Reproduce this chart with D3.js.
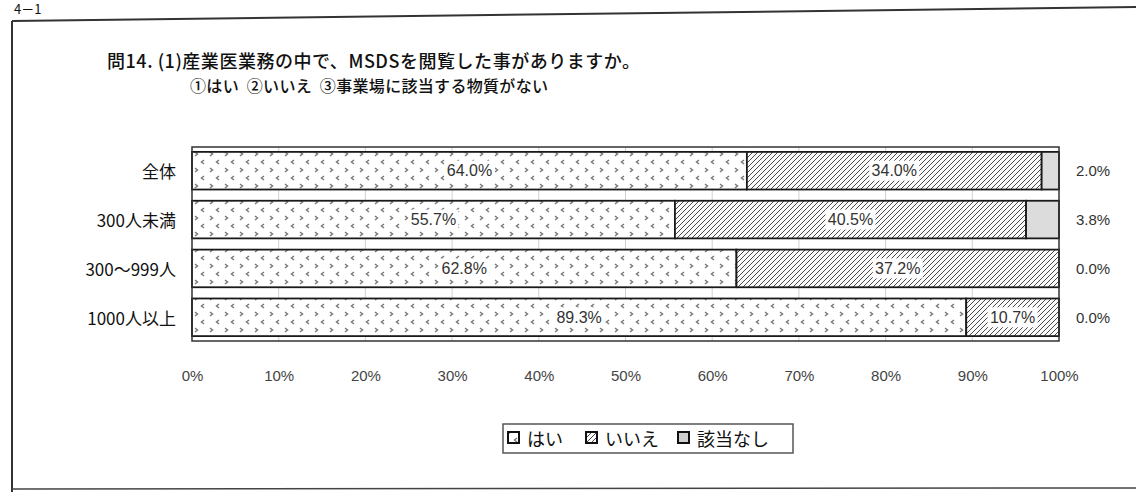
<!DOCTYPE html>
<html>
<head>
<meta charset="utf-8">
<script src="https://cdn.jsdelivr.net/npm/d3@7"></script>
<style>
  body { margin: 0; background: #fff; }
  svg { display: block; }
  .jp { font-family: "Noto Sans CJK JP", "Noto Sans", sans-serif; fill: #111; }
  .num { font-family: "Liberation Sans", Arial, sans-serif; fill: #333; }
</style>
</head>
<body>
<div id="root"></div>
<script>
'use strict';

var categories = ['全体', '300人未満', '300～999人', '1000人以上'];
var hai = [64.0, 55.7, 62.8, 89.3];
var iie = [34.0, 40.5, 37.2, 10.7];
var nashi = [2.0, 3.8, 0.0, 0.0];
var seriesNames = ['はい', 'いいえ', '該当なし'];
var ticks = [0, 10, 20, 30, 40, 50, 60, 70, 80, 90, 100];

var width = 1136;
var height = 492;

var svg = d3.select('#root')
  .append('svg')
  .attr('width', width)
  .attr('height', height);

// patterns
var defs = svg.append('defs');

var pHai = defs.append('pattern')
  .attr('id', 'p-hai')
  .attr('patternUnits', 'userSpaceOnUse')
  .attr('x', 192).attr('y', 150)
  .attr('width', 15)
  .attr('height', 16);
pHai.append('rect').attr('width', 15).attr('height', 16).attr('fill', '#fff');
pHai.append('path')
  .attr('d', 'M3,2 L5.5,4 L3,6 M12,10 L9.5,12 L12,14')
  .attr('fill', 'none')
  .attr('stroke', '#7a7a7a')
  .attr('stroke-width', 1.5);

var pIie = defs.append('pattern')
  .attr('id', 'p-iie')
  .attr('patternUnits', 'userSpaceOnUse')
  .attr('width', 5)
  .attr('height', 5);
pIie.append('rect').attr('width', 5).attr('height', 5).attr('fill', '#fafafa');
pIie.append('path')
  .attr('d', 'M0,5 L5,0 M-1,1 L1,-1 M4,6 L6,4')
  .attr('stroke', '#4a4a4a')
  .attr('stroke-width', 1);

var fills = ['url(#p-hai)', 'url(#p-iie)', '#dcdcdc'];

// outer frame (scanned page border)
svg.append('line')
  .attr('x1', 12).attr('y1', 21).attr('x2', width).attr('y2', 7)
  .attr('stroke', '#333').attr('stroke-width', 2);
svg.append('line')
  .attr('x1', 12).attr('y1', 21).attr('x2', 12).attr('y2', height)
  .attr('stroke', '#333').attr('stroke-width', 2);
svg.append('line')
  .attr('x1', 12).attr('y1', 489).attr('x2', width).attr('y2', 488)
  .attr('stroke', '#444').attr('stroke-width', 1.5);

svg.append('text')
  .attr('class', 'jp')
  .attr('x', 14).attr('y', 14)
  .attr('font-size', 13)
  .text('4－1');

// title
svg.append('text')
  .attr('class', 'jp')
  .attr('x', 107).attr('y', 68)
  .attr('font-size', 18)
  .attr('font-weight', 500)
  .attr('textLength', 533)
  .text('問14. (1)産業医業務の中で、MSDSを閲覧した事がありますか。');
svg.append('text')
  .attr('class', 'jp')
  .attr('x', 190).attr('y', 92)
  .attr('font-size', 16)
  .attr('font-weight', 500)
  .attr('textLength', 358)
  .attr('xml:space', 'preserve')
  .text('①はい  ②いいえ  ③事業場に該当する物質がない');

var x = d3.scaleLinear().domain([0, 100]).range([192, 1059]);
var y = d3.scaleBand().domain(categories).range([147, 341])
  .paddingInner(0.23).paddingOuter(0.1);

// grid
svg.append('g')
  .selectAll('line')
  .data(ticks.slice(1, -1))
  .join('line')
  .attr('x1', d => x(d)).attr('x2', d => x(d))
  .attr('y1', 147).attr('y2', 341)
  .attr('stroke', '#d0d0d0')
  .attr('stroke-width', 1);

// stacked bars
var rows = categories.map((c, i) => ({ cat: c, values: [hai[i], iie[i], nashi[i]] }));
var segs = [];
rows.forEach(function(r) {
  var acc = 0;
  r.values.forEach(function(v, k) {
    segs.push({ cat: r.cat, k: k, x0: acc, x1: acc + v, v: v });
    acc += v;
  });
});

svg.append('g')
  .selectAll('rect')
  .data(segs.filter(d => d.v > 0))
  .join('rect')
  .attr('x', d => x(d.x0))
  .attr('y', d => y(d.cat))
  .attr('width', d => x(d.x1) - x(d.x0))
  .attr('height', y.bandwidth())
  .attr('fill', d => fills[d.k])
  .attr('stroke', '#1a1a1a')
  .attr('stroke-width', 1.8);

// plot area border
svg.append('rect')
  .attr('x', x(0)).attr('y', 147)
  .attr('width', x(100) - x(0)).attr('height', 341 - 147)
  .attr('fill', 'none')
  .attr('stroke', '#333')
  .attr('stroke-width', 1.5);

// in-bar labels
var inside = segs.filter(d => d.k < 2 && d.v > 0);
var lab = svg.append('g').selectAll('g')
  .data(inside)
  .join('g')
  .attr('transform', d => `translate(${x((d.x0 + d.x1) / 2)}, ${y(d.cat) + y.bandwidth() / 2})`);
lab.append('rect')
  .attr('x', -25).attr('y', -10)
  .attr('width', 50).attr('height', 20)
  .attr('fill', '#fff');
lab.append('text')
  .attr('class', 'num')
  .attr('text-anchor', 'middle')
  .attr('dominant-baseline', 'central')
  .attr('font-size', 16)
  .text(d => d.v.toFixed(1) + '%');

// right labels (該当なし)
svg.append('g').selectAll('text')
  .data(segs.filter(d => d.k === 2))
  .join('text')
  .attr('class', 'num')
  .attr('x', 1093)
  .attr('y', d => y(d.cat) + y.bandwidth() / 2)
  .attr('text-anchor', 'middle')
  .attr('dominant-baseline', 'central')
  .attr('font-size', 15)
  .text(d => d.v.toFixed(1) + '%');

// category labels
svg.append('g').selectAll('text')
  .data(categories)
  .join('text')
  .attr('class', 'jp')
  .attr('x', 176)
  .attr('y', d => y(d) + y.bandwidth() / 2)
  .attr('text-anchor', 'end')
  .attr('dominant-baseline', 'central')
  .attr('font-size', 17)
  .text(d => d);

// x axis
var xAxis = svg.append('g')
  .attr('transform', 'translate(0,341)')
  .call(d3.axisBottom(x).tickValues(ticks).tickSize(0).tickPadding(29).tickFormat(d => d + '%'));
xAxis.select('.domain').remove();
xAxis.selectAll('text')
  .attr('class', 'num')
  .attr('font-size', 15)
  .style('fill', '#444');

// legend
var lg = svg.append('g');
lg.append('rect')
  .attr('x', 503).attr('y', 424)
  .attr('width', 290).attr('height', 29)
  .attr('fill', '#fff')
  .attr('stroke', '#555')
  .attr('stroke-width', 1.5);
var legendX = [508, 586, 678];
var items = lg.selectAll('g')
  .data(seriesNames)
  .join('g')
  .attr('transform', (d, i) => `translate(${legendX[i]}, 438)`);
items.append('rect')
  .attr('x', 0).attr('y', -6)
  .attr('width', 11).attr('height', 11)
  .attr('fill', (d, i) => i === 2 ? '#cfcfcf' : fills[i])
  .attr('stroke', '#111')
  .attr('stroke-width', 2);
items.append('text')
  .attr('class', 'jp')
  .attr('x', 19)
  .attr('y', 0)
  .attr('dominant-baseline', 'central')
  .attr('font-size', 18)
  .text(d => d);
</script>
</body>
</html>
